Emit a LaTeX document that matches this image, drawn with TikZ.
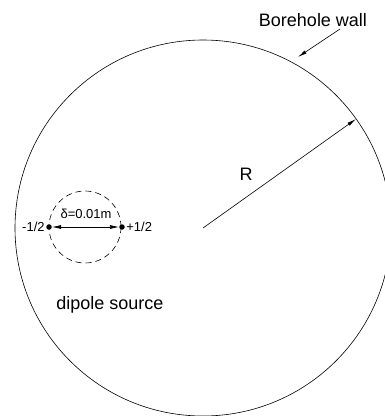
\documentclass[tikz,border=0pt]{standalone}
\usepackage{fontspec}
\setmainfont{Liberation Sans}
\usetikzlibrary{arrows.meta}
\begin{document}
\begin{tikzpicture}[x=1pt,y=-1pt,line width=0.6pt,
  tip/.style={-{Latex[length=9pt,width=3.6pt]}},
  big/.style={font=\fontsize{18}{20}\selectfont},
  small/.style={font=\fontsize{13}{15}\selectfont}]
\useasboundingbox (0,0) rectangle (384,416);
\coordinate (c) at (203,228);
\coordinate (rim) at (356,119);
\draw (c) circle (188);
\draw[dash pattern=on 6pt off 4pt] (85,227) circle (36);
\node[circle, fill, inner sep=0pt, minimum size=5.5pt] (neg) at (49,227) {};
\node[circle, fill, inner sep=0pt, minimum size=5.5pt] (pos) at (122,227) {};
\node[small, anchor=east, inner sep=1pt] (negl) at (neg.west) {-1/2};
\node[small, anchor=west, inner sep=1pt] (posl) at (pos.east) {+1/2};
\node[small] (delta) at (86,214) {δ=0.01m};
\draw[{Latex[length=9pt,width=4pt]}-{Latex[length=9pt,width=4pt]}] (neg) -- (pos);
\draw[tip] (c) -- (rim);
\node[big] (r) at (246,174) {R};
\node[big] (wall) at (313,20) {Borehole wall};
\coordinate (w) at (298,57);
\coordinate (ws) at (340,29);
\draw[tip] (ws) -- (w);
\node[big] (src) at (110,305) {dipole source};
\end{tikzpicture}
\end{document}
